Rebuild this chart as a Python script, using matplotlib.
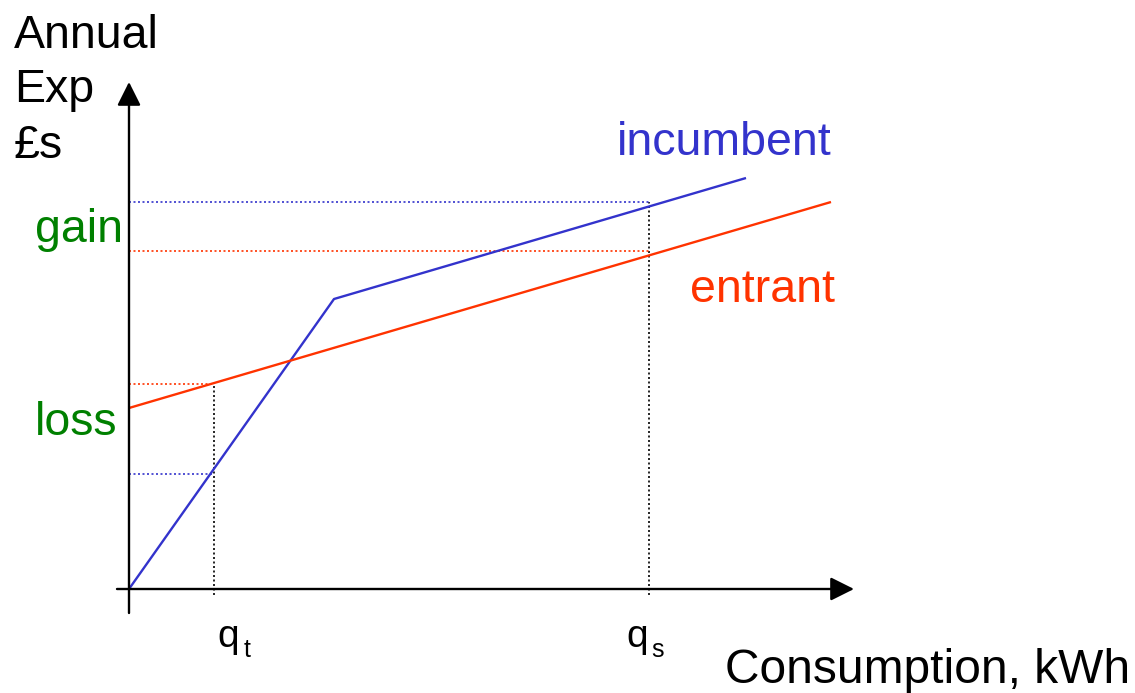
import matplotlib
matplotlib.use("Agg")
import matplotlib.pyplot as plt

plt.rcParams['font.family'] = ['Liberation Sans', 'DejaVu Sans']

# ---- data (consumption units, £ units) ----
incumbent_x = [0.0, 20.5, 61.7]
incumbent_y = [0.0, 29.0, 41.1]
entrant_x = [0.0, 70.2]
entrant_y = [18.1, 38.7]

q_t = 8.5
q_s = 52.0
qt_entrant_level = 20.5
qt_incumbent_level = 11.5
qs_incumbent_level = 38.7
qs_entrant_level = 33.8

x_axis_end = 72.5
y_axis_end = 50.7

BLUE = '#3333CC'
RED = '#FF3300'
GREEN = '#008000'

fig = plt.figure(figsize=(11.35, 6.93), dpi=100)
ax = fig.add_axes([0, 0, 1, 1])
ax.set_xlim(-12.9, 100.6)
ax.set_ylim(-10.4, 58.9)
ax.axis('off')

# axes with arrows
ax.annotate('', xy=(x_axis_end, 0), xytext=(-1.2, 0),
            arrowprops=dict(arrowstyle='-|>,head_length=0.72,head_width=0.36',
                            color='black', lw=1.7, shrinkA=0, shrinkB=0,
                            mutation_scale=20))
ax.annotate('', xy=(0, y_axis_end), xytext=(0, -2.4),
            arrowprops=dict(arrowstyle='-|>,head_length=0.72,head_width=0.36',
                            color='black', lw=1.7, shrinkA=0, shrinkB=0,
                            mutation_scale=20))

dot = (0, (1.2, 1.5))
# dotted guide lines
ax.plot([q_t, q_t], [-0.6, qt_entrant_level], color='black', lw=1.2, ls=dot)
ax.plot([q_s, q_s], [-0.6, qs_incumbent_level], color='black', lw=1.2, ls=dot)
ax.plot([0, q_t], [qt_entrant_level, qt_entrant_level], color=RED, lw=1.2, ls=dot)
ax.plot([0, q_t], [qt_incumbent_level, qt_incumbent_level], color=BLUE, lw=1.2, ls=dot)
ax.plot([0, q_s], [qs_incumbent_level, qs_incumbent_level], color=BLUE, lw=1.2, ls=dot)
ax.plot([0, q_s], [qs_entrant_level, qs_entrant_level], color=RED, lw=1.2, ls=dot)

# main lines
ax.plot(incumbent_x, incumbent_y, color=BLUE, lw=1.7, solid_capstyle='butt')
ax.plot(entrant_x, entrant_y, color=RED, lw=1.7, solid_capstyle='butt')

fs = 33.5
ax.text(-11.5, 54.1, 'Annual', fontsize=fs, va='baseline', ha='left')
ax.text(-11.5, 48.7, 'Exp', fontsize=fs, va='baseline', ha='left')
ax.text(-11.5, 43.1, '£s', fontsize=fs, va='baseline', ha='left')
ax.text(48.8, 43.4, 'incumbent', fontsize=fs, color=BLUE, va='baseline', ha='left')
ax.text(56.1, 28.7, 'entrant', fontsize=fs, color=RED, va='baseline', ha='left')
ax.text(-9.4, 34.7, 'gain', fontsize=fs, color=GREEN, va='baseline', ha='left')
ax.text(-9.4, 15.4, 'loss', fontsize=fs, color=GREEN, va='baseline', ha='left')
ax.text(8.8, -5.8, 'q', fontsize=28, va='baseline', ha='left')
ax.text(11.5, -6.8, 't', fontsize=18, va='baseline', ha='left')
ax.text(49.7, -5.8, 'q', fontsize=28, va='baseline', ha='left')
ax.text(52.2, -6.8, 's', fontsize=18, va='baseline', ha='left')
ax.text(59.6, -9.4, 'Consumption, kWh', fontsize=34.5, va='baseline', ha='left')

fig.savefig('out.png', dpi=100)
